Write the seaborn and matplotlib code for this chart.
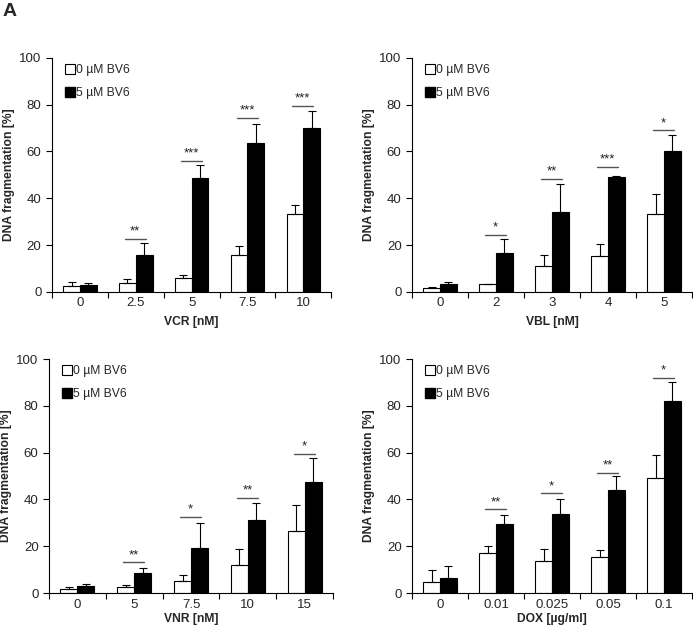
import numpy as np
import pandas as pd
import matplotlib.pyplot as plt
from matplotlib.lines import Line2D
import seaborn as sns

# ---- data ----
groups = ["0 µM BV6", "5 µM BV6"]

vcr_cats = ["0", "2.5", "5", "7.5", "10"]
vcr_ctrl = [2.6, 3.7, 6.0, 15.7, 33.2]
vcr_ctrl_err = [1.7, 1.7, 1.1, 3.7, 3.8]
vcr_bv6 = [3.0, 15.7, 48.6, 63.5, 70.1]
vcr_bv6_err = [0.7, 5.1, 5.5, 8.2, 7.1]
vcr_sig = ["", "**", "***", "***", "***"]
vcr_sig_y = [0, 22.8, 56.0, 74.4, 79.6]

vbl_cats = ["0", "2", "3", "4", "5"]
vbl_ctrl = [1.7, 3.4, 11.0, 15.2, 33.4]
vbl_ctrl_err = [0.3, 0.0, 4.6, 5.1, 8.5]
vbl_bv6 = [3.4, 16.6, 34.0, 48.9, 60.2]
vbl_bv6_err = [0.8, 5.8, 12.2, 0.7, 6.8]
vbl_sig = ["", "*", "**", "***", "*"]
vbl_sig_y = [0, 24.5, 48.2, 53.5, 69.0]

vnr_cats = ["0", "5", "7.5", "10", "15"]
vnr_ctrl = [1.7, 2.7, 5.1, 11.9, 26.4]
vnr_ctrl_err = [1.0, 0.7, 2.4, 6.8, 11.1]
vnr_bv6 = [3.0, 8.5, 19.2, 31.1, 47.3]
vnr_bv6_err = [0.7, 2.2, 10.6, 7.3, 10.2]
vnr_sig = ["", "**", "*", "**", "*"]
vnr_sig_y = [0, 13.2, 32.5, 40.8, 59.4]

dox_cats = ["0", "0.01", "0.025", "0.05", "0.1"]
dox_ctrl = [4.7, 17.0, 13.6, 15.3, 49.0]
dox_ctrl_err = [5.0, 3.0, 5.1, 3.0, 9.8]
dox_bv6 = [6.5, 29.4, 33.7, 43.9, 82.2]
dox_bv6_err = [4.9, 3.8, 6.4, 6.0, 8.1]
dox_sig = ["", "**", "*", "**", "*"]
dox_sig_y = [0, 35.7, 42.6, 51.4, 91.9]

sns.set_theme(style="white")
plt.rcParams["font.family"] = ["Liberation Sans", "DejaVu Sans"]

fig = plt.figure(figsize=(6.93, 6.29), dpi=100)

panels = [
    ([0.075, 0.536, 0.403, 0.372], vcr_cats, vcr_ctrl, vcr_ctrl_err, vcr_bv6, vcr_bv6_err, vcr_sig, vcr_sig_y, "VCR [nM]", 5),
    ([0.5945, 0.536, 0.404, 0.372], vbl_cats, vbl_ctrl, vbl_ctrl_err, vbl_bv6, vbl_bv6_err, vbl_sig, vbl_sig_y, "VBL [nM]", 5),
    ([0.0707, 0.0572, 0.41, 0.372], vnr_cats, vnr_ctrl, vnr_ctrl_err, vnr_bv6, vnr_bv6_err, vnr_sig, vnr_sig_y, "VNR [nM]", 1.5),
    ([0.5945, 0.0572, 0.404, 0.372], dox_cats, dox_ctrl, dox_ctrl_err, dox_bv6, dox_bv6_err, dox_sig, dox_sig_y, "DOX [µg/ml]", 1.5),
]

for rect, cats, ctrl, ctrl_err, bv6, bv6_err, sig, sig_y, xlabel, xpad in panels:
    ax = fig.add_axes(rect)
    df = pd.DataFrame({
        "cat": cats + cats,
        "group": [groups[0]] * len(cats) + [groups[1]] * len(cats),
        "value": ctrl + bv6,
    })
    sns.barplot(data=df, x="cat", y="value", hue="group", order=cats,
                hue_order=groups, palette=["white", "black"], width=0.6,
                edgecolor="black", linewidth=0.8, errorbar=None,
                legend=False, ax=ax)

    # upward-only error bars on each bar
    for cont, err in zip(ax.containers, [ctrl_err, bv6_err]):
        xs = [b.get_x() + b.get_width() / 2 for b in cont]
        ys = [b.get_height() for b in cont]
        ax.errorbar(xs, ys, yerr=[np.zeros(len(err)), err], fmt="none",
                    ecolor="black", elinewidth=0.8, capsize=3, capthick=0.8)

    # significance lines and stars
    left_bars = ax.containers[0]
    right_bars = ax.containers[1]
    for i, (s, y) in enumerate(zip(sig, sig_y)):
        if not s:
            continue
        x0 = left_bars[i].get_x() + left_bars[i].get_width() * 0.35
        x1 = right_bars[i].get_x() + right_bars[i].get_width() * 0.6
        ax.plot([x0, x1], [y, y], color="#555555", lw=1.0)
        ax.text((x0 + x1) / 2, y + 0.5, s, ha="center", va="bottom",
                fontsize=9.5, color="#222222")

    ax.set_xlim(-0.5, len(cats) - 0.5)
    ax.set_ylim(0, 100)
    ax.set_yticks([0, 20, 40, 60, 80, 100])
    ax.set_xticks(range(len(cats)))
    ax.set_xticklabels(cats)
    ax.set_xticks(np.arange(-0.5, len(cats), 1.0), minor=True)
    ax.tick_params(axis="x", which="major", length=0, labelsize=9.5, pad=4)
    ax.tick_params(axis="x", which="minor", length=4, width=0.8, color="black", bottom=True)
    ax.tick_params(axis="y", length=4, width=0.8, color="black", left=True, labelsize=9.5)
    for side in ["top", "right"]:
        ax.spines[side].set_visible(False)
    for side in ["left", "bottom"]:
        ax.spines[side].set_color("black")
        ax.spines[side].set_linewidth(0.8)
    ax.set_xlabel(xlabel, fontsize=8.7, fontweight="bold", labelpad=xpad)
    ax.set_ylabel("DNA fragmentation [%]", fontsize=8.7, fontweight="bold", labelpad=3)

    handles = [
        Line2D([], [], marker="s", ls="none", markersize=7,
               markerfacecolor="white", markeredgecolor="black", markeredgewidth=0.8),
        Line2D([], [], marker="s", ls="none", markersize=7,
               markerfacecolor="black", markeredgecolor="black"),
    ]
    ax.legend(handles, groups, loc="upper left", bbox_to_anchor=(0.025, 1.0),
              frameon=False, fontsize=8.7, handlelength=0.8, handletextpad=0.1,
              labelspacing=0.9, borderpad=0.0)

fig.text(0.003, 0.995, "A", fontsize=14, fontweight="bold", ha="left", va="top")

plt.savefig("out.png", dpi=100)
